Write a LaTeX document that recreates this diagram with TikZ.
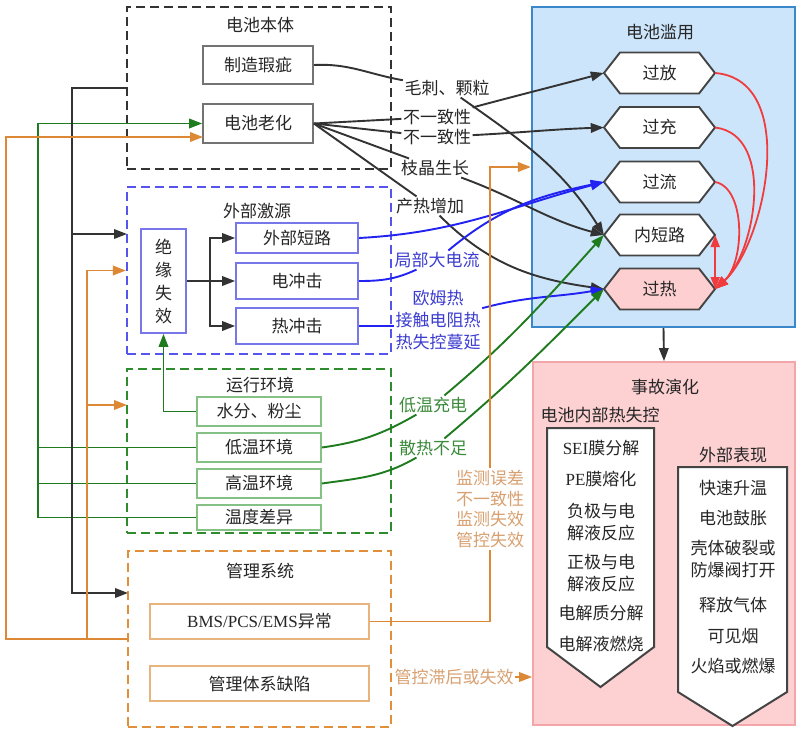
\documentclass[tikz,border=0pt]{standalone}
\usepackage{fontspec}
\setmainfont{Noto Sans CJK SC}
\newfontfamily\lat{Liberation Serif}
\usetikzlibrary{arrows.meta,calc}
\definecolor{cblk}{HTML}{333333}
\definecolor{cbluegrp}{HTML}{5555EE}
\definecolor{cblueb}{HTML}{7777EA}
\definecolor{cbluel}{HTML}{2222F2}
\definecolor{cbluet}{HTML}{3C3CD0}
\definecolor{cgrngrp}{HTML}{2E8B2E}
\definecolor{cgrnb}{HTML}{85C085}
\definecolor{cgrnl}{HTML}{1E7B1E}
\definecolor{cgrnt}{HTML}{3A8A3A}
\definecolor{corggrp}{HTML}{E0903A}
\definecolor{corgb}{HTML}{E8B47E}
\definecolor{corgl}{HTML}{DC8834}
\definecolor{corgt}{HTML}{D8A070}
\definecolor{lyfill}{HTML}{CCE5FB}
\definecolor{lydraw}{HTML}{3A87C9}
\definecolor{sgfill}{HTML}{FDD0D2}
\definecolor{sgdraw}{HTML}{F3A6AA}
\definecolor{hexd}{HTML}{444444}
\definecolor{hexpink}{HTML}{FDCFD0}
\definecolor{cred}{HTML}{F03C3C}
\begin{document}
\begin{tikzpicture}[x=1pt,y=1pt,
  font=\fontsize{17}{22}\selectfont,
  >={Triangle[length=13pt,width=9.5pt]},
  grp/.style={draw, dash pattern=on 9pt off 5pt, line width=2.2pt, inner sep=0pt},
  bx/.style={draw, line width=1.7pt, inner sep=0pt, text=black!85},
  hexn/.style={inner sep=0pt, minimum width=111pt, minimum height=41pt, text=black!85},
  lab/.style={inner sep=1.5pt, align=center},
  ttl/.style={text=black!85, inner sep=0pt, align=center},
  kconn/.style={draw=cblk, line width=1.9pt, ->},
  kline/.style={draw=cblk, line width=1.9pt},
  bconn/.style={draw=cbluel, line width=1.9pt, ->},
  bline/.style={draw=cbluel, line width=1.9pt},
  gconn/.style={draw=cgrnl, line width=1.9pt, ->},
  gline/.style={draw=cgrnl, line width=1.9pt},
  oconn/.style={draw=corgl, line width=1.9pt, ->},
  oline/.style={draw=corgl, line width=1.9pt},
  rconn/.style={draw=cred, line width=1.8pt, -{Triangle[length=13pt,width=10pt]}},
  shp/.style={draw=hexd, line width=2pt, fill=white}
]
\useasboundingbox (0,0) rectangle (800,-732);
\fill[white] (0,0) rectangle (800,-732);

% ---------- right big boxes ----------
\node[draw=lydraw, fill=lyfill, line width=2.2pt, minimum width=263pt, minimum height=320pt, inner sep=0pt] (lybox) at (663.5,-167) {};
\node[ttl] (lyt) at (660,-32) {电池滥用};
\node[draw=sgdraw, fill=sgfill, line width=1.8pt, minimum width=262pt, minimum height=363pt, inner sep=0pt] (sghy) at (664,-543.5) {};
\node[ttl] (sgt) at (665,-387) {事故演化};
\node[ttl] (rkt) at (600,-415) {电池内部热失控};
\node[ttl] (wbt) at (733,-455) {外部表现};

% pentagon shapes
\draw[shp] (547,-428) -- (654,-428) -- (654,-647) -- (600.5,-687) -- (547,-647) -- cycle;
\draw[shp] (678,-467) -- (787,-467) -- (787,-692) -- (732.5,-726) -- (678,-692) -- cycle;
\node[ttl] (a1) at (601,-448) {{\lat SEI}膜分解};
\node[ttl] (a2) at (601,-479) {{\lat PE}膜熔化};
\node[ttl] (a3) at (601,-522) {负极与电\\解液反应};
\node[ttl] (a4) at (601,-573) {正极与电\\解液反应};
\node[ttl] (a5) at (601,-613) {电解质分解};
\node[ttl] (a6) at (601,-644) {电解液燃烧};
\node[ttl] (b1) at (733,-488) {快速升温};
\node[ttl] (b2) at (733,-518) {电池鼓胀};
\node[ttl] (b3) at (733,-559) {壳体破裂或\\防爆阀打开};
\node[ttl] (b4) at (733,-605) {释放气体};
\node[ttl] (b5) at (733,-636) {可见烟};
\node[ttl] (b6) at (733,-666) {火焰或燃爆};

% hexagons
\foreach \nm/\cy/\txt/\fc in {gf/73/过放/white, gc/127.5/过充/white, gl/182/过流/white, nsl/235/内短路/white, gr/289/过热/hexpink} {
  \draw[draw=hexd, line width=1.9pt, fill=\fc, shift={(659.5,-\cy)}] (-55.5,0) -- (-39.5,20.5) -- (39.5,20.5) -- (55.5,0) -- (39.5,-20.5) -- (-39.5,-20.5) -- cycle;
  \node[hexn] (\nm) at (659.5,-\cy) {\txt};
}

% ---------- left groups ----------
\node[grp, draw=cblk, minimum width=264pt, minimum height=162pt] (bt) at (259,-88) {};
\node[ttl] (btt) at (260,-25) {电池本体};
\node[bx, draw=black!55, minimum width=110pt, minimum height=38pt] (zzxc) at (258,-65) {制造瑕疵};
\node[bx, draw=black!55, minimum width=110pt, minimum height=39pt] (lh) at (258,-123.5) {电池老化};

\node[grp, draw=cbluegrp, minimum width=264pt, minimum height=167pt] (wbjy) at (259,-270.5) {};
\node[ttl] (wbjyt) at (257,-211) {外部激源};
\node[bx, draw=cblueb, minimum width=45pt, minimum height=104pt, align=center, font=\fontsize{17}{23}\selectfont] (jy) at (163.5,-281) {绝\\缘\\失\\效};
\node[bx, draw=cblueb, minimum width=122pt, minimum height=30pt] (wbdl) at (297,-238) {外部短路};
\node[bx, draw=cblueb, minimum width=122pt, minimum height=36pt] (dcj) at (297,-281) {电冲击};
\node[bx, draw=cblueb, minimum width=122pt, minimum height=36pt] (rcj) at (297,-326) {热冲击};

\node[grp, draw=cgrngrp, minimum width=264pt, minimum height=164pt] (yxhj) at (259,-451) {};
\node[ttl] (yxhjt) at (260,-385) {运行环境};
\node[bx, draw=cgrnb, minimum width=124pt, minimum height=29pt] (sf) at (259,-411.5) {水分、粉尘};
\node[bx, draw=cgrnb, minimum width=124pt, minimum height=29pt] (dwhj) at (259,-447.5) {低温环境};
\node[bx, draw=cgrnb, minimum width=124pt, minimum height=29pt] (gwhj) at (259,-483.5) {高温环境};
\node[bx, draw=cgrnb, minimum width=124pt, minimum height=25pt] (wdcy) at (259,-517.5) {温度差异};

\node[grp, draw=corggrp, minimum width=263pt, minimum height=176pt] (glxt) at (259.5,-639) {};
\node[ttl] (glxtt) at (260,-571) {管理系统};
\node[bx, draw=corgb, minimum width=219pt, minimum height=35pt] (bms) at (259.5,-621.5) {{\lat BMS/PCS/EMS}异常};
\node[bx, draw=corgb, minimum width=219pt, minimum height=35pt] (glt) at (259.5,-683.5) {管理体系缺陷};

% ---------- labels ----------
\node[lab, text=black!85] (L1) at (447,-88) {毛刺、颗粒};
\node[lab, text=black!85] (L2) at (437,-117) {不一致性};
\node[lab, text=black!85] (L3) at (437,-137) {不一致性};
\node[lab, text=black!85] (L4) at (435,-168) {枝晶生长};
\node[lab, text=black!85] (L5) at (430,-206) {产热增加};
\node[lab, text=cbluet] (L6) at (437,-260) {局部大电流};
\node[lab, text=cbluet] (L7) at (438,-320) {欧姆热\\接触电阻热\\热失控蔓延};
\node[lab, text=cgrnt] (L8) at (433,-405) {低温充电};
\node[lab, text=cgrnt] (L9) at (433,-448) {散热不足};
\node[lab, text=corgt, font=\fontsize{17}{20.7}\selectfont] (L10) at (490,-509) {监测误差\\不一致性\\监测失效\\管控失效};
\node[lab, text=corgt] (L11) at (454,-677) {管控滞后或失效};

% ---------- coordinates ----------
\coordinate (kx) at (72,0);
\coordinate (gx) at (38,0);
\coordinate (ox1) at (6,0);
\coordinate (ox2) at (87,0);
\coordinate (ka) at (128,-593);
\coordinate (kb) at (127,-234);
\coordinate (oa) at (203,-137);
\coordinate (ob) at (127,-405);
\coordinate (brx) at (210,-281);

% ---------- left bus connectors ----------
\draw[gline] (wdcy.west) -- (wdcy.west -| gx) -- (dwhj.west -| gx);
\draw[gline] (gwhj.west) -- (gwhj.west -| gx);
\draw[gconn] (dwhj.west) -- (dwhj.west -| gx) |- (lh.west);
\draw[kconn] (bt.west) -- (bt.west -| kx) |- (ka);
\draw[kconn] (bt.west -| kx) |- (kb);
\draw[oconn] (glxt.west) -- (glxt.west -| ox1) |- (oa);
\draw[oconn] (glxt.west) -- (glxt.west -| ox2) |- (wbjy.west);
\draw[oconn] (glxt.west -| ox2) |- (ob);

% insulation branches
\draw[gconn] (sf.west) -| (jy.south);
\draw[kconn] (jy.east) -- (dcj.west);
\draw[kconn] (brx) |- (wbdl.west);
\draw[kconn] (brx) |- (rcj.west);

% ---------- black connectors ----------
\draw[kline] (zzxc.east) to[out=3,in=170] (L1);
\draw[kconn] (L1) to[out=-35,in=122] (nsl.west);
\draw[kline] (lh.east) -- (L2);
\draw[kconn] (L2) to[out=15,in=195] (gf.west);
\draw[kline] (lh.east) -- (L3);
\draw[kconn] (L3) to[out=3,in=182] (gc.west);
\draw[kline] (lh.east) -- (L4);
\draw[kconn] (L4) to[out=-20,in=165] (nsl.west);
\draw[kline] (lh.east) -- (L5);
\draw[kconn] (L5) to[out=-45,in=172] (gr.west);

% ---------- blue connectors ----------
\draw[bconn] (wbdl.east) to[out=3,in=195] (gl.west);
\draw[bline] (dcj.east) to[out=0,in=205] (L6);
\draw[bconn] (L6) to[out=40,in=192] (gl.west);
\draw[bline] (rcj.east) -- (L7.west |- rcj.east);
\draw[bconn] (L7) to[out=15,in=190] (gr.west);

% ---------- green connectors ----------
\draw[gline] (dwhj.east) to[out=8,in=210] (L8);
\draw[gconn] (L8) to[out=40,in=228] (nsl.west);
\draw[gline] (gwhj.east) to[out=8,in=210] (L9);
\draw[gconn] (L9) to[out=40,in=225] (gr.west);

% ---------- orange connectors ----------
\draw[oline] (bms.east) -| (L10.south);
\draw[oconn] (L10.north) |- (lybox.west);
\draw[oconn] (L11.east) -- (L11.east -| sghy.west);

% ---------- abuse to accident ----------
\draw[kconn] (lybox.south) -- (sghy.north);

% ---------- red arrows ----------
\draw[rconn] (gf.east) .. controls (800,-80) and (765,-244) .. (gr.east);
\draw[rconn] (gc.east) .. controls (776,-135) and (755,-253) .. (gr.east);
\draw[rconn] (gl.east) .. controls (746,-188) and (745,-262) .. (gr.east);
\draw[draw=cred, line width=1.8pt, {Triangle[length=12pt,width=9pt]}-{Triangle[length=12pt,width=9pt]}] (nsl.east) -- (gr.east);
\end{tikzpicture}
\end{document}
